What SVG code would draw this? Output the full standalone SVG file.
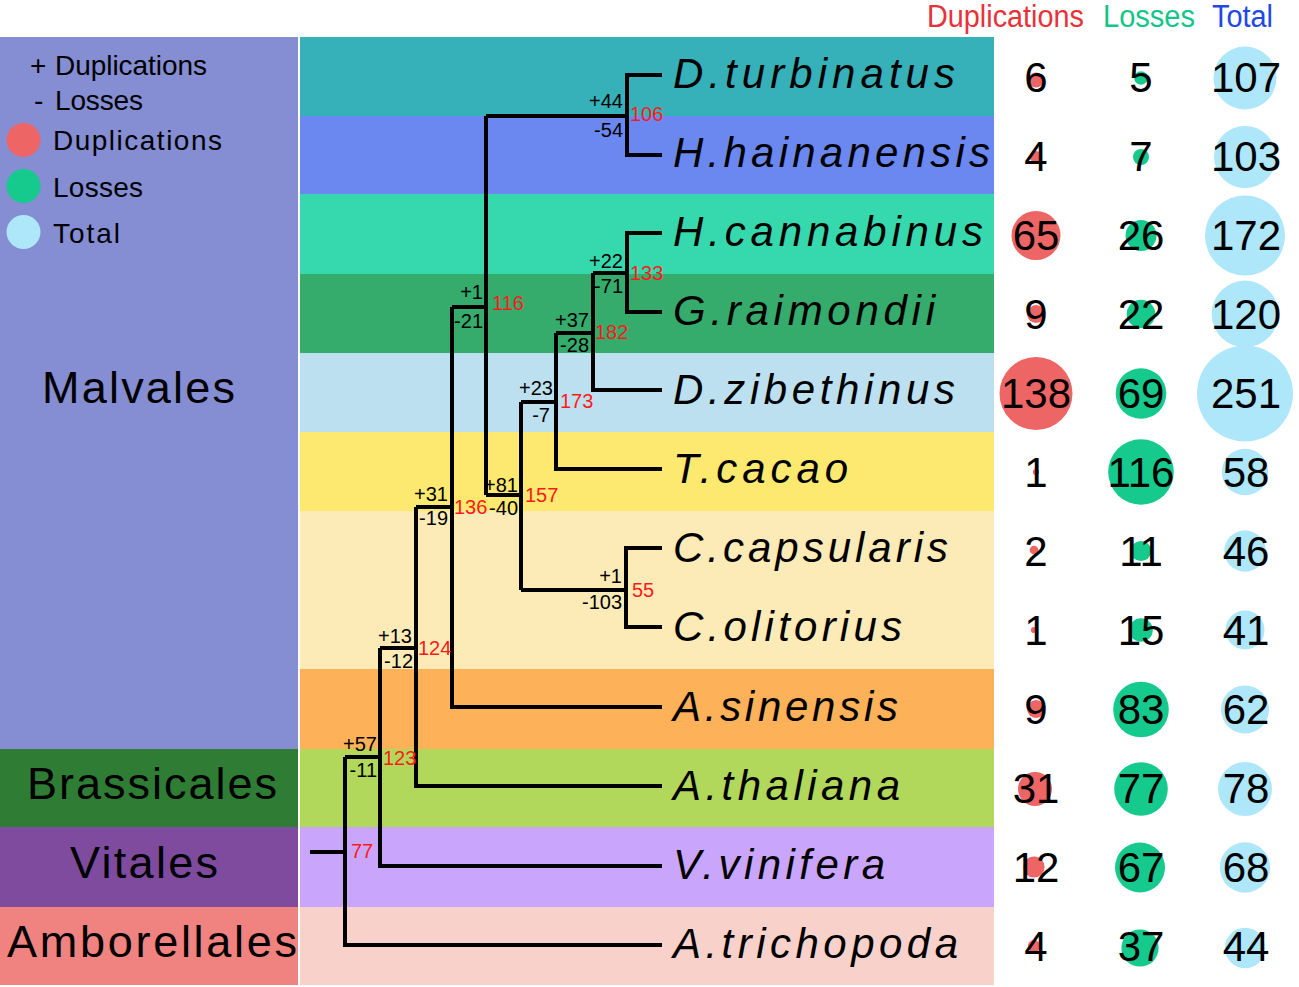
<svg xmlns="http://www.w3.org/2000/svg" width="1299" height="987" viewBox="0 0 1299 987">
<style>
text{font-family:"Liberation Sans",Arial,sans-serif;fill:#000}
.sp{font-size:42px;font-style:italic}
.ord{font-size:45px}
.lg{font-size:28px}
.num{font-size:42px;text-anchor:middle}
.pl{font-size:20px;text-anchor:end}
.nd{font-size:20px;fill:#ff1a1a}
.br{fill:none;stroke:#000;stroke-width:4;stroke-linejoin:miter;stroke-linecap:butt}
.cd{fill:#ee6565}
.cl{fill:#16c98d}
.ct{fill:#aee6fa}
</style>
<rect width="1299" height="987" fill="#fff"/>
<g id="bands">
<rect x="300" y="37" width="694" height="79" fill="#36b0b9"/>
<rect x="300" y="116" width="694" height="78" fill="#6a88ef"/>
<rect x="300" y="194" width="694" height="80" fill="#36d9ad"/>
<rect x="300" y="274" width="694" height="79" fill="#35ab6c"/>
<rect x="300" y="353" width="694" height="79" fill="#bde0f1"/>
<rect x="300" y="432" width="694" height="79" fill="#fde96f"/>
<rect x="300" y="511" width="694" height="158" fill="#fdebb7"/>
<rect x="300" y="669" width="694" height="80" fill="#fdb159"/>
<rect x="300" y="749" width="694" height="78" fill="#b1d85b"/>
<rect x="300" y="827" width="694" height="80" fill="#c9a6fb"/>
<rect x="300" y="907" width="694" height="78" fill="#f8d2ca"/>
</g>
<g id="orders">
<g id="malvales"><rect x="0" y="37" width="298" height="712" fill="#858dd3"/><text class="ord" x="42" y="403" textLength="193" lengthAdjust="spacing">Malvales</text></g>
<g id="brassicales"><rect x="0" y="749" width="298" height="78" fill="#2f7c34"/><text class="ord" x="27" y="799" textLength="250" lengthAdjust="spacing">Brassicales</text></g>
<g id="vitales"><rect x="0" y="827" width="298" height="80" fill="#7e4b9f"/><text class="ord" x="70" y="878" textLength="148" lengthAdjust="spacing">Vitales</text></g>
<g id="amborellales"><rect x="0" y="907" width="298" height="78" fill="#f0827f"/><text class="ord" x="7" y="957" textLength="290" lengthAdjust="spacing">Amborellales</text></g>
</g>
<g id="legend">
<text class="lg" x="30" y="75">+</text><text class="lg" x="55" y="75" textLength="152" lengthAdjust="spacing">Duplications</text>
<text class="lg" x="34" y="110">-</text><text class="lg" x="55" y="110" textLength="88" lengthAdjust="spacing">Losses</text>
<circle class="cd" cx="23.5" cy="140" r="17"/><text class="lg" x="53" y="150" textLength="169" lengthAdjust="spacing">Duplications</text>
<circle class="cl" cx="23.5" cy="186" r="17"/><text class="lg" x="53" y="197" textLength="90" lengthAdjust="spacing">Losses</text>
<circle class="ct" cx="23.5" cy="232" r="17"/><text class="lg" x="53" y="243" textLength="67" lengthAdjust="spacing">Total</text>
</g>
<g id="header">
<text x="927" y="27" font-size="31" style="fill:#e8323a" textLength="157" lengthAdjust="spacingAndGlyphs">Duplications</text>
<text x="1103" y="27" font-size="31" style="fill:#12c68a" textLength="92" lengthAdjust="spacingAndGlyphs">Losses</text>
<text x="1212" y="27" font-size="31" style="fill:#2147e6" textLength="61" lengthAdjust="spacingAndGlyphs">Total</text>
</g>
<g id="connectors">
<path class="br" d="M662,75 H627 V155 H662 M486,116 H627"/>
<path class="br" d="M662,233 H627 V312 H662 M593,273 H627"/>
<path class="br" d="M662,390 H593 V273 M556,333 H593"/>
<path class="br" d="M662,469 H556 V333 M521,402 H556"/>
<path class="br" d="M662,548 H626 V627 H662 M521,590 H626"/>
<path class="br" d="M521,402 V590 M486,495 H521"/>
<path class="br" d="M486,116 V495 M452,307 H486"/>
<path class="br" d="M662,707 H452 V307 M416,507 H452"/>
<path class="br" d="M662,786 H416 V507 M380,648 H416"/>
<path class="br" d="M662,866 H380 V648 M345,757 H380"/>
<path class="br" d="M662,945 H345 V757 M310,852 H345"/>
</g>
<g id="node-labels">
<g id="n106"><text class="pl" x="623" y="108">+44</text><text class="pl" x="623" y="137">-54</text><text class="nd" x="630" y="121">106</text></g>
<g id="n133"><text class="pl" x="623" y="268">+22</text><text class="pl" x="623" y="293">-71</text><text class="nd" x="630" y="280">133</text></g>
<g id="n116"><text class="pl" x="483" y="299">+1</text><text class="pl" x="483" y="328">-21</text><text class="nd" x="492" y="310">116</text></g>
<g id="n182"><text class="pl" x="589" y="327">+37</text><text class="pl" x="589" y="352">-28</text><text class="nd" x="595" y="339">182</text></g>
<g id="n173"><text class="pl" x="553" y="395">+23</text><text class="pl" x="550" y="422">-7</text><text class="nd" x="560" y="408">173</text></g>
<g id="n157"><text class="pl" x="518" y="492">+81</text><text class="pl" x="518" y="515">-40</text><text class="nd" x="525" y="502">157</text></g>
<g id="n136"><text class="pl" x="448" y="501">+31</text><text class="pl" x="448" y="525">-19</text><text class="nd" x="454" y="514">136</text></g>
<g id="n55"><text class="pl" x="622" y="583">+1</text><text class="pl" x="622" y="609">-103</text><text class="nd" x="632" y="597">55</text></g>
<g id="n124"><text class="pl" x="412" y="643">+13</text><text class="pl" x="413" y="668">-12</text><text class="nd" x="418" y="655">124</text></g>
<g id="n123"><text class="pl" x="377" y="751">+57</text><text class="pl" x="377" y="777">-11</text><text class="nd" x="383" y="765">123</text></g>
<g id="n77"><text class="nd" x="351" y="858">77</text></g>
</g>
<g id="species">
<text class="sp" x="673" y="88" textLength="282" lengthAdjust="spacing">D.turbinatus</text>
<text class="sp" x="673" y="167" textLength="317" lengthAdjust="spacing">H.hainanensis</text>
<text class="sp" x="673" y="246" textLength="310" lengthAdjust="spacing">H.cannabinus</text>
<text class="sp" x="673" y="325" textLength="262" lengthAdjust="spacing">G.raimondii</text>
<text class="sp" x="673" y="404" textLength="282" lengthAdjust="spacing">D.zibethinus</text>
<text class="sp" x="673" y="483" textLength="175" lengthAdjust="spacing">T.cacao</text>
<text class="sp" x="673" y="562" textLength="275" lengthAdjust="spacing">C.capsularis</text>
<text class="sp" x="673" y="641" textLength="229" lengthAdjust="spacing">C.olitorius</text>
<text class="sp" x="673" y="721" textLength="225" lengthAdjust="spacing">A.sinensis</text>
<text class="sp" x="673" y="800" textLength="227" lengthAdjust="spacing">A.thaliana</text>
<text class="sp" x="673" y="879" textLength="212" lengthAdjust="spacing">V.vinifera</text>
<text class="sp" x="673" y="958" textLength="285" lengthAdjust="spacing">A.trichopoda</text>
</g>
<g id="counts">
<circle class="cd" cx="1036" cy="80" r="7.5"/><circle class="cl" cx="1141" cy="78" r="6.8"/><circle class="ct" cx="1245" cy="78" r="31.5"/>
<text class="num" x="1036" y="92">6</text><text class="num" x="1141" y="92">5</text><text class="num" x="1246" y="92">107</text>
<circle class="cd" cx="1036" cy="157" r="6.1"/><circle class="cl" cx="1141" cy="157" r="8"/><circle class="ct" cx="1245" cy="157" r="31"/>
<text class="num" x="1036" y="171">4</text><text class="num" x="1141" y="171">7</text><text class="num" x="1246" y="171">103</text>
<circle class="cd" cx="1036" cy="235.5" r="24.5"/><circle class="cl" cx="1141" cy="235.5" r="15.5"/><circle class="ct" cx="1245" cy="235.5" r="40"/>
<text class="num" x="1036" y="250">65</text><text class="num" x="1141" y="250">26</text><text class="num" x="1246" y="250">172</text>
<circle class="cd" cx="1036" cy="314" r="9"/><circle class="cl" cx="1141" cy="314" r="14.3"/><circle class="ct" cx="1245" cy="314" r="33.4"/>
<text class="num" x="1036" y="329">9</text><text class="num" x="1141" y="329">22</text><text class="num" x="1246" y="329">120</text>
<circle class="cd" cx="1036" cy="393.5" r="36.5"/><circle class="cl" cx="1141" cy="393.5" r="25.3"/><circle class="ct" cx="1245" cy="393.5" r="48"/>
<text class="num" x="1036" y="408">138</text><text class="num" x="1141" y="408">69</text><text class="num" x="1246" y="408">251</text>
<circle class="cd" cx="1036" cy="472" r="3.1"/><circle class="cl" cx="1141" cy="472" r="32.8"/><circle class="ct" cx="1245" cy="472" r="23.2"/>
<text class="num" x="1036" y="487">1</text><text class="num" x="1141" y="487">116</text><text class="num" x="1246" y="487">58</text>
<circle class="cd" cx="1034" cy="550" r="4.3"/><circle class="cl" cx="1141" cy="551" r="10.1"/><circle class="ct" cx="1245" cy="551" r="20.7"/>
<text class="num" x="1036" y="566">2</text><text class="num" x="1141" y="566">11</text><text class="num" x="1246" y="566">46</text>
<circle class="cd" cx="1034" cy="630" r="3.1"/><circle class="cl" cx="1141" cy="630" r="11.8"/><circle class="ct" cx="1245" cy="630" r="19.5"/>
<text class="num" x="1036" y="645">1</text><text class="num" x="1141" y="645">15</text><text class="num" x="1246" y="645">41</text>
<circle class="cd" cx="1036" cy="709" r="9"/><circle class="cl" cx="1141" cy="709.5" r="27.8"/><circle class="ct" cx="1245" cy="709.5" r="24"/>
<text class="num" x="1036" y="724">9</text><text class="num" x="1141" y="724">83</text><text class="num" x="1246" y="724">62</text>
<circle class="cd" cx="1035" cy="789" r="17"/><circle class="cl" cx="1141" cy="789" r="26.8"/><circle class="ct" cx="1245" cy="789" r="27"/>
<text class="num" x="1036" y="803">31</text><text class="num" x="1141" y="803">77</text><text class="num" x="1246" y="803">78</text>
<circle class="cd" cx="1034" cy="867" r="10.6"/><circle class="cl" cx="1140" cy="867.5" r="25"/><circle class="ct" cx="1245" cy="867.5" r="25.2"/>
<text class="num" x="1036" y="882">12</text><text class="num" x="1141" y="882">67</text><text class="num" x="1246" y="882">68</text>
<circle class="cd" cx="1034" cy="946" r="6.1"/><circle class="cl" cx="1140" cy="948" r="18.6"/><circle class="ct" cx="1245" cy="948" r="20.2"/>
<text class="num" x="1036" y="961">4</text><text class="num" x="1141" y="961">37</text><text class="num" x="1246" y="961">44</text>
</g>
</svg>
